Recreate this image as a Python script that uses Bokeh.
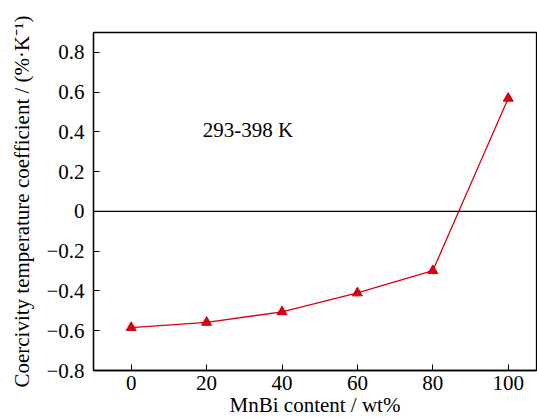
from bokeh.plotting import figure
from bokeh.models import Span, Label, FixedTicker, CustomJSTickFormatter
from bokeh.embed import file_html
from bokeh.resources import INLINE

mnbi_content = [0, 20, 40, 60, 80, 100]
temp_coeff = [-0.584, -0.558, -0.505, -0.41, -0.298, 0.569]
x_ticks = [0, 20, 40, 60, 80, 100]
y_ticks = [-0.8, -0.6, -0.4, -0.2, 0, 0.2, 0.4, 0.6, 0.8]
annotation = "293-398 K"

FONT = "Liberation Serif"
RED = "#d7000f"

p = figure(output_backend="svg", toolbar_location=None,
           frame_width=443, frame_height=338,
           x_range=(-10, 107.5), y_range=(-0.8, 0.9),
           min_border_left=93, min_border_top=32, min_border_right=1, min_border_bottom=40)

p.line(mnbi_content, temp_coeff, line_color=RED, line_width=1.3)
p.scatter(mnbi_content, temp_coeff, marker="triangle", size=10, fill_color=RED, line_color=RED)

p.add_layout(Span(location=0, dimension="width", line_color="black", line_width=1.3))
p.add_layout(Label(x=19, y=0.41, text=annotation, text_font=FONT, text_font_size="21px",
                   text_baseline="middle", text_color="black"))

p.grid.visible = False
p.outline_line_color = "black"
p.outline_line_width = 1.3

p.axis.axis_line_width = 1.3
p.axis.major_tick_in = 6
p.axis.major_tick_out = 0
p.axis.minor_tick_line_color = None
p.axis.major_label_text_font = FONT
p.axis.major_label_text_font_size = "21px"
p.axis.major_label_text_color = "black"
p.axis.axis_label_text_font = FONT
p.axis.axis_label_text_font_size = "21px"
p.axis.axis_label_text_font_style = "normal"
p.axis.axis_label_text_color = "black"

p.xaxis.ticker = FixedTicker(ticks=x_ticks)
p.yaxis.ticker = FixedTicker(ticks=y_ticks)
p.yaxis.formatter = CustomJSTickFormatter(code="""
if (Math.abs(tick) < 1e-9) { return '0'; }
if (tick < 0) { return String.fromCharCode(8722) + (-tick).toFixed(1); }
return tick.toFixed(1);
""")
p.xaxis.axis_label = "MnBi content / wt%"
p.yaxis.axis_label = "Coercivity temperature coefficient / (%\u00b7K\u207b\u00b9)"
p.xaxis.major_label_standoff = 5
p.yaxis.major_label_standoff = 9
p.xaxis.axis_label_standoff = 0
p.yaxis.axis_label_standoff = 9

open("out.html", "w").write(file_html(p, INLINE))
